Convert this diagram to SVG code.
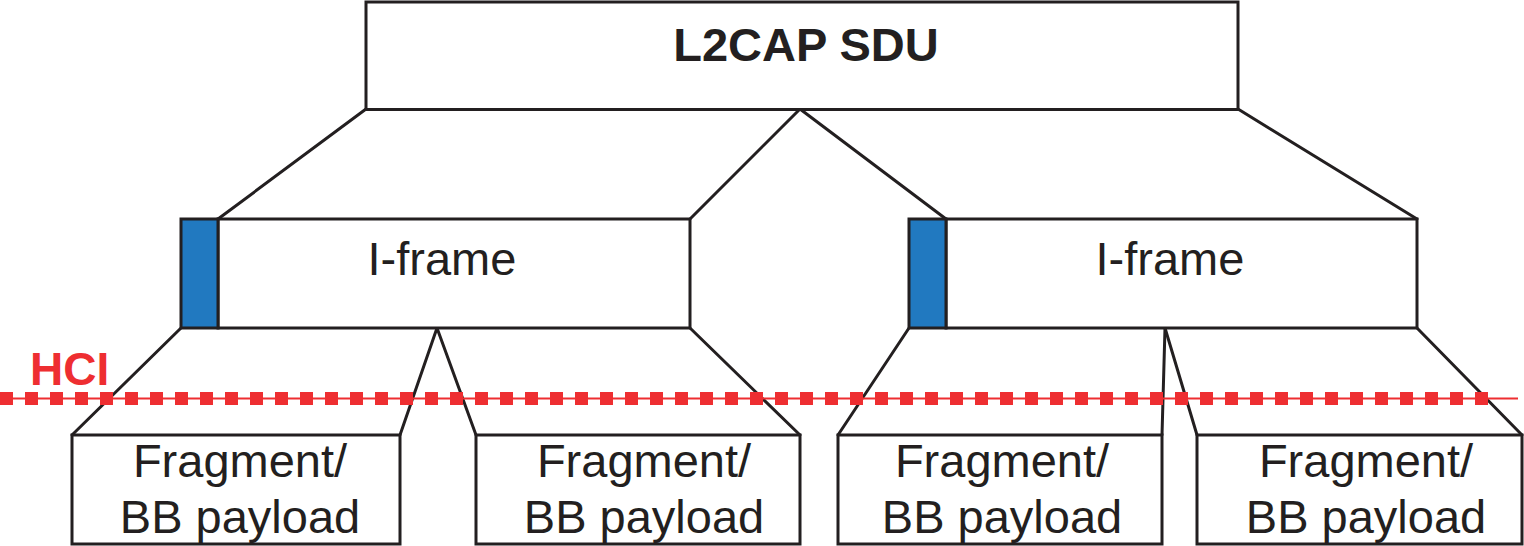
<svg xmlns="http://www.w3.org/2000/svg" width="1524" height="546" viewBox="0 0 1524 546">
<style>
.box{fill:#fff;stroke:#231f20;stroke-width:3}
.hdr{fill:#2179c0;stroke:#231f20;stroke-width:3}
.conn line{stroke:#231f20;stroke-width:3;stroke-linecap:round}
.t{font-family:"Liberation Sans",Arial,sans-serif;font-size:47px;fill:#231f20;text-anchor:middle}
.b{font-weight:bold}
.hci{fill:#ee2e31;font-family:"Liberation Sans",Arial,sans-serif;font-weight:bold;font-size:46px}
</style>
<rect width="1524" height="546" fill="#fff"/>
<g id="connectors" class="conn">
<line x1="366" y1="109" x2="218" y2="219"/>
<line x1="800" y1="109" x2="690" y2="219"/>
<line x1="800" y1="109" x2="946" y2="219"/>
<line x1="1238" y1="109" x2="1417" y2="219"/>
<line x1="181" y1="328" x2="72" y2="435"/>
<line x1="437" y1="328" x2="400" y2="435"/>
<line x1="437" y1="328" x2="476" y2="435"/>
<line x1="690" y1="328" x2="800" y2="435"/>
<line x1="909" y1="328" x2="838" y2="435"/>
<line x1="1165" y1="328" x2="1162" y2="435"/>
<line x1="1165" y1="328" x2="1197" y2="435"/>
<line x1="1417" y1="328" x2="1522" y2="435"/>
</g>
<g id="sdu">
<rect class="box" x="366" y="2" width="872" height="107.5"/>
<text class="t b" x="806" y="61">L2CAP SDU</text>
</g>
<g id="iframe1">
<rect class="box" x="218" y="219" width="472" height="109"/>
<rect class="hdr" x="181" y="219" width="37" height="109"/>
<text class="t" x="442" y="275">I-frame</text>
</g>
<g id="iframe2">
<rect class="box" x="946" y="219" width="471" height="109"/>
<rect class="hdr" x="909" y="219" width="37" height="109"/>
<text class="t" x="1170" y="275">I-frame</text>
</g>
<g id="frag1">
<rect class="box" x="72" y="435" width="328" height="109"/>
<text class="t" x="240" y="477">Fragment/</text>
<text class="t" x="240" y="533">BB payload</text>
</g>
<g id="frag2">
<rect class="box" x="476" y="435" width="324" height="109"/>
<text class="t" x="644" y="477">Fragment/</text>
<text class="t" x="644" y="533">BB payload</text>
</g>
<g id="frag3">
<rect class="box" x="838" y="435" width="324" height="109"/>
<text class="t" x="1002" y="477">Fragment/</text>
<text class="t" x="1002" y="533">BB payload</text>
</g>
<g id="frag4">
<rect class="box" x="1197" y="435" width="325" height="109"/>
<text class="t" x="1366" y="477">Fragment/</text>
<text class="t" x="1366" y="533">BB payload</text>
</g>
<g id="hci">
<line x1="0" y1="398.5" x2="1518" y2="398.5" stroke="#ee2e31" stroke-width="2"/>
<line x1="0" y1="398.5" x2="1490" y2="398.5" stroke="#ee2e31" stroke-width="13" stroke-dasharray="13 12"/>
<text class="hci" x="30" y="385">HCI</text>
</g>
</svg>
